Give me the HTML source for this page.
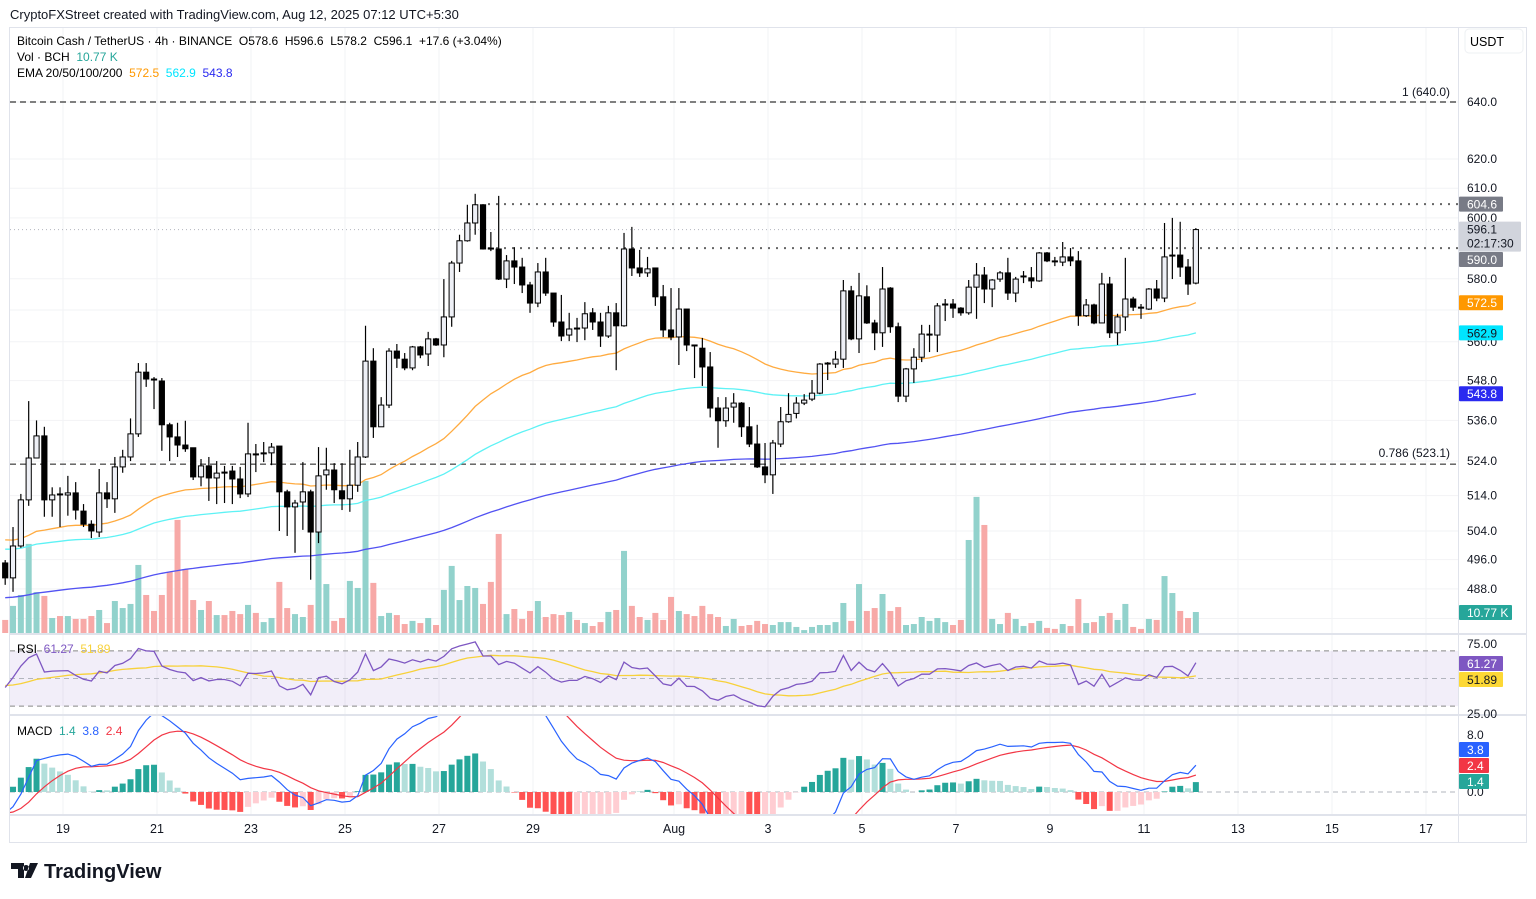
<!DOCTYPE html>
<html><head><meta charset="utf-8"><title>BCH/USDT 4h</title>
<style>
html,body{margin:0;padding:0;background:#fff;}
body{width:1536px;height:899px;overflow:hidden;font-family:"Liberation Sans",Arial,sans-serif;color:#131722;}
svg{display:block;}
text{font-family:"Liberation Sans",Arial,sans-serif;white-space:pre;}
</style></head>
<body>
<svg id="chart" width="1536" height="899" viewBox="0 0 1536 899" xmlns="http://www.w3.org/2000/svg" xml:space="preserve">
  <text x="10" y="19" font-size="13" fill="#131722">CryptoFXStreet created with TradingView.com, Aug 12, 2025 07:12 UTC+5:30</text>
  <rect x="9.5" y="27.5" width="1517" height="815" fill="none" stroke="#e0e3eb"/>
  <line x1="1458.5" y1="28" x2="1458.5" y2="842" stroke="#e0e3eb"/>
  <g id="grid"></g>
  <g id="levels"></g>
  <g id="vol"></g>
  <g id="ema"></g>
  <g id="candles"></g>
  <g id="rsi"></g>
  <g id="macd"></g>
  <g id="axis"></g>
  <g id="legend">
    <text x="17" y="45" font-size="12">Bitcoin Cash / TetherUS · 4h · BINANCE  O578.6  H596.6  L578.2  C596.1  +17.6 (+3.04%)</text>
    <text x="17" y="61" font-size="12">Vol · BCH  <tspan fill="#26a69a">10.77 K</tspan></text>
    <text x="17" y="77" font-size="12">EMA 20/50/100/200  <tspan fill="#ff9800">572.5</tspan>  <tspan fill="#00e5ff">562.9</tspan>  <tspan fill="#2a2af0">543.8</tspan></text>
    <text x="17" y="653" font-size="12">RSI  <tspan fill="#7e57c2">61.27</tspan>  <tspan fill="#f7d13a">51.89</tspan></text>
    <text x="17" y="735" font-size="12">MACD  <tspan fill="#26a69a">1.4</tspan>  <tspan fill="#2962ff">3.8</tspan>  <tspan fill="#f23645">2.4</tspan></text>
  </g>
  <rect x="1465" y="29" width="58" height="24" rx="4" fill="#fff" stroke="#eef0f3"/>
  <text x="1470" y="46" font-size="12.5">USDT</text>
  <g>
    <path d="M11 863h13v15h-6v-9h-7z M26 865a3 3 0 1 0 0.1 0z M30 863h8l-7 15h-6z" fill="#131722"/>
    <text x="44" y="878" font-size="20" font-weight="bold" fill="#131722">TradingView</text>
  </g>
</svg>
<script>
const O=[495.1,491.0,499.8,512.8,524.9,531.4,512.8,514.5,514.2,514.8,
509.6,505.9,503.7,514.8,513.1,522.3,525.2,532.0,550.6,548.5,
547.9,534.7,531.1,528.7,527.9,519.4,522.6,519.1,520.8,521.1,
518.8,514.5,526.1,526.1,526.4,528.4,515.1,510.8,512.2,515.1,
503.7,520.0,521.4,515.4,513.1,517.0,525.2,554.0,534.1,540.6,
557.1,554.6,551.9,558.4,556.2,560.9,559.0,567.8,585.1,592.4,
598.3,604.4,590.0,589.7,579.9,585.8,583.8,578.0,572.2,582.2,
575.4,566.2,562.1,564.3,564.3,569.1,566.2,561.8,569.1,565.0,
589.7,583.5,581.9,583.5,574.2,563.7,561.5,570.3,559.0,558.0,
552.2,539.7,535.9,540.0,541.2,534.1,529.0,522.3,520.0,529.0,
535.6,538.1,541.2,542.4,544.2,553.1,553.1,554.6,576.1,560.9,
574.2,565.9,562.8,577.0,564.7,543.3,551.6,555.2,562.1,562.1,
571.6,571.9,570.6,569.1,577.3,581.2,576.7,579.9,581.9,575.4,
580.6,580.3,579.3,588.4,585.8,585.4,587.1,585.8,568.2,571.6,
565.9,578.3,562.8,567.8,573.5,570.9,570.3,576.7,573.8,587.4,
587.7,583.8,578.6];
const H=[495.9,505.1,514.5,541.8,536.0,534.1,516.4,516.4,519.7,517.9,
511.6,507.0,521.7,517.9,525.2,527.3,536.6,553.4,553.4,549.1,
548.8,535.3,535.3,535.9,527.9,524.6,525.2,524.0,522.6,522.6,
522.3,535.3,529.0,529.6,529.3,528.4,515.7,512.8,523.7,515.7,
528.1,527.9,523.4,523.4,527.3,529.6,565.0,558.0,543.0,558.0,
559.3,556.5,558.7,558.7,563.1,561.2,579.9,585.8,594.4,604.4,
608.1,604.6,595.3,607.4,587.7,590.3,586.8,579.0,585.1,586.8,
575.4,574.8,569.1,567.5,572.5,570.6,569.1,571.3,572.2,595.0,
597.0,589.4,587.1,583.5,578.0,577.0,577.0,570.3,559.0,561.2,
556.8,543.0,543.0,544.2,541.5,540.0,534.7,529.3,530.2,540.0,
544.2,543.0,543.9,548.2,553.4,553.7,557.1,579.6,577.7,581.9,
577.9,566.9,583.8,577.3,566.0,551.9,558.0,565.3,565.3,572.2,
573.5,573.5,570.9,579.6,585.1,583.8,579.9,582.5,586.8,580.6,
582.5,583.8,588.7,588.7,587.1,592.0,590.0,589.0,573.5,572.0,
581.9,580.6,568.8,586.8,574.2,571.9,577.0,579.6,598.3,600.0,
598.7,586.4,596.6];
const L=[489.1,487.2,499.3,511.1,524.9,508.0,508.0,505.1,508.3,507.2,
505.1,502.0,502.3,510.5,509.1,520.6,524.0,531.1,546.1,539.4,
527.0,524.0,525.2,526.7,518.5,516.7,512.5,511.6,511.9,511.6,
513.3,513.6,520.8,523.7,522.8,504.0,502.6,497.9,504.3,490.5,
500.6,515.7,511.9,509.9,509.4,515.1,524.9,530.8,534.1,539.7,
551.9,551.2,551.2,554.9,552.5,558.7,555.2,564.7,582.2,592.1,
594.4,589.5,589.0,579.6,577.0,578.3,575.4,569.1,570.9,574.5,
564.7,560.2,560.2,559.9,560.5,563.7,558.4,561.2,551.2,564.7,
580.9,580.6,580.6,571.3,561.5,560.5,552.8,557.1,548.8,546.4,
536.9,527.9,534.1,535.3,531.1,528.1,522.0,517.6,514.5,528.1,
535.3,536.6,540.6,541.8,543.9,548.2,551.9,551.9,560.5,556.5,
565.6,557.4,558.4,562.8,541.5,541.5,547.3,553.7,556.8,556.8,
566.5,567.5,568.2,568.5,567.2,572.2,570.9,579.0,573.2,572.5,
578.6,577.0,579.0,585.4,584.1,584.1,584.1,565.0,567.8,565.5,
565.9,561.2,559.0,563.4,569.7,567.2,570.0,572.8,572.5,579.9,
580.6,574.8,578.2];
const C=[491.0,499.8,512.8,524.9,531.4,512.8,514.2,514.4,514.8,509.9,
505.9,504.0,514.8,513.1,522.3,525.2,532.0,550.6,548.5,548.2,
534.7,531.1,528.7,527.6,519.4,522.6,519.1,520.5,520.5,518.8,
514.5,526.1,525.8,526.4,528.1,515.1,510.8,511.9,515.1,503.7,
519.7,521.4,515.7,513.1,517.0,525.2,554.0,534.1,540.6,557.1,
554.9,551.9,558.4,555.9,560.9,559.0,567.8,585.1,592.4,598.3,
604.4,589.7,589.8,579.9,585.8,583.8,578.0,572.2,582.2,575.4,
566.2,561.8,564.0,564.0,568.8,566.2,561.8,569.1,565.0,589.7,
583.5,581.9,583.2,574.2,563.7,561.5,570.3,559.0,558.7,552.2,
539.7,535.9,539.7,541.2,534.1,529.0,522.3,520.0,529.3,535.6,
537.8,541.2,542.1,544.2,553.1,553.4,554.6,576.1,560.9,574.5,
565.9,562.8,576.7,564.7,543.3,551.6,555.2,562.4,562.4,571.3,
571.9,570.6,569.1,577.3,581.2,576.7,579.6,581.9,575.4,579.9,
580.9,579.3,588.4,585.8,585.6,587.1,585.8,568.2,571.6,565.9,
578.3,562.8,567.8,573.5,570.9,570.6,576.7,573.8,587.1,587.7,
583.8,578.3,596.1];
const V=[6.7,13.9,19.5,45.7,21.0,19.0,7.7,8.7,8.7,7.2,
7.2,8.7,11.8,5.1,16.4,12.8,14.9,34.9,19.5,11.3,
19.5,31.3,58.0,32.8,16.9,11.8,16.4,9.2,9.2,11.3,
9.7,14.4,10.3,5.6,7.7,26.2,12.8,9.7,8.2,14.4,
69.3,25.1,6.2,7.7,26.7,23.1,78.0,25.7,8.7,10.3,
9.2,4.6,6.2,5.1,7.7,4.1,22.1,34.4,16.9,24.1,
23.1,14.9,26.2,50.8,9.7,12.3,7.2,11.3,16.4,8.2,
9.7,9.2,10.8,6.7,5.1,3.6,5.6,10.8,11.8,42.1,
13.9,8.2,6.7,10.3,6.7,18.5,11.3,9.7,8.7,13.9,
9.7,8.2,3.6,7.2,3.6,4.1,6.2,4.6,4.1,5.6,
5.6,3.1,1.5,3.1,4.1,4.1,5.6,15.4,6.2,25.1,
11.3,12.8,20.0,11.3,13.3,4.1,4.6,8.2,6.2,7.7,
5.6,4.1,6.7,47.7,69.8,55.4,7.2,4.6,10.3,7.2,
3.6,5.1,6.2,2.6,2.1,4.6,3.6,17.4,5.1,5.6,
8.7,10.3,6.7,14.9,3.1,2.1,7.2,6.7,29.2,20.5,
11.3,7.7,10.77];
const timeStart=[-1.23];
const emaPeriods=[50,100,200];
const emaSeeds=[501.5,498.9,485.6];
const emaColors=["#ffab40","#5ef2f5","#5252f2"];
const rsiSeeds=[2.0,2.6,45];
const macdSeeds=[0,3,-3];
const priceTicks=[640,620,610,600,580,570,560,548,536,524,514,504,496,488,480];
const tickLabels=["19","21","23","25","27","29","Aug","3","5","7","9","11","13","15","17"];
const tickDays=[0,2,4,6,8,10,13,15,17,19,21,23,25,27,29];
const levelPrices=[640.0,604.6,590.0,523.1];

const NS="http://www.w3.org/2000/svg";
function mk(tag,attrs,parent){const e=document.createElementNS(NS,tag);for(const k in attrs)e.setAttribute(k,attrs[k]);parent.appendChild(e);return e;}
const N=C.length;
const DAYPX=47, X0=63;
function xDay(d){return X0+d*DAYPX;}
function xOf(i){return xDay(timeStart[0]+i/6);}
function yP(p){return 102+1795.6*Math.log(640/p);}
function yRsi(v){return 678.5-(v-50)*1.38;}
function yMacd(v){return 792-v*7.1;}
function yVol(v){return 633-v*1.95;}

const grid=document.getElementById('grid');
tickDays.forEach(d=>{const l=mk('line',{x1:xDay(d),x2:xDay(d),y1:28,y2:815,stroke:'#f2f3f5'},grid);

});
priceTicks.forEach(p=>{const l=mk('line',{x1:10,x2:1458,y1:yP(p),y2:yP(p),stroke:'#f2f3f5'},grid);

});

const axis=document.getElementById('axis');
[[634,'main-rsi-separator'],[715,'rsi-macd-separator'],[815,'time-axis-separator']].forEach(s=>{
 const l=mk('line',{x1:10,x2:1527,y1:s[0],y2:s[0],stroke:'#e0e3eb','stroke-width':2},axis);
 
 });

const lv=document.getElementById('levels');
mk('line',{x1:10,x2:1458,y1:yP(levelPrices[0]),y2:yP(levelPrices[0]),stroke:'#555','stroke-width':1.4,'stroke-dasharray':'6 4'},lv);
mk('line',{x1:10,x2:1458,y1:yP(levelPrices[3]),y2:yP(levelPrices[3]),stroke:'#555','stroke-width':1.4,'stroke-dasharray':'6 4'},lv);
mk('line',{x1:488,x2:1458,y1:yP(levelPrices[1]),y2:yP(levelPrices[1]),stroke:'#666','stroke-width':2,'stroke-dasharray':'2 6'},lv);
mk('line',{x1:488,x2:1458,y1:yP(levelPrices[2]),y2:yP(levelPrices[2]),stroke:'#666','stroke-width':2,'stroke-dasharray':'2 6'},lv);
mk('line',{x1:10,x2:1458,y1:yP(C[N-1]),y2:yP(C[N-1]),stroke:'#b2b5be','stroke-width':1,'stroke-dasharray':'1 3'},lv);
let t=mk('text',{x:1450,y:yP(640)-6,'font-size':12,'text-anchor':'end',fill:'#131722'},lv);t.textContent='1 (640.0)';

t=mk('text',{x:1450,y:yP(523.1)-7,'font-size':12,'text-anchor':'end',fill:'#131722'},lv);t.textContent='0.786 (523.1)';


const vg=document.getElementById('vol');
for(let i=0;i<N;i++){const up=C[i]>=O[i];const x=xOf(i);
 const r=mk('rect',{x:x-3,y:yVol(V[i]),width:6,height:633-yVol(V[i]),fill:up?'#92d2cc':'#f7a9a7'},vg);
 
 }

const eg=document.getElementById('ema');
const emaVals=emaPeriods.map((p,k)=>{const a=2/(p+1);let e=emaSeeds[k];const out=[];for(let i=0;i<N;i++){e=i===0?e:e+a*(C[i]-e);out.push(e);}return out;});
emaVals.forEach((arr,k)=>{const d=arr.map((v,i)=>(i?'L':'M')+xOf(i).toFixed(1)+' '+yP(v).toFixed(1)).join(' ');
 const p=mk('path',{d:d,fill:'none',stroke:emaColors[k],'stroke-width':1.3},eg);
 
 });

const cg=document.getElementById('candles');
for(let i=0;i<N;i++){const x=xOf(i);const up=C[i]>=O[i];
 const w=mk('line',{x1:x,x2:x,y1:yP(H[i]),y2:yP(L[i]),stroke:'#000','stroke-width':1.2},cg);
 
 
 const top=yP(Math.max(O[i],C[i])),bot=yP(Math.min(O[i],C[i]));
 const b=mk('rect',{x:x-2.6,y:top,width:5.2,height:Math.max(1,bot-top),fill:up?'#eef0f6':'#000',stroke:'#000','stroke-width':1},cg);
 
 }

const rg=document.getElementById('rsi');
mk('rect',{x:10,y:yRsi(70),width:1448,height:yRsi(30)-yRsi(70),fill:'#7e57c2','fill-opacity':0.1},rg);
[70,50,30].forEach(v=>{const l=mk('line',{x1:10,x2:1458,y1:yRsi(v),y2:yRsi(v),stroke:v===50?'#b2b5be':'#888','stroke-dasharray':'5 4'},rg);
 
 });
let ag=rsiSeeds[0],al=rsiSeeds[1];const rsi=[];
for(let i=0;i<N;i++){if(i>0){const ch=C[i]-C[i-1];ag=(ag*13+Math.max(ch,0))/14;al=(al*13+Math.max(-ch,0))/14;}rsi.push(100-100/(1+ag/al));}
const rsiMa=rsi.map((v,i)=>{let s=0;for(let k=i-13;k<=i;k++)s+=k>=0?rsi[k]:rsiSeeds[2];return s/14;});
function linePath(arr,yf){return arr.map((v,i)=>(i?'L':'M')+xOf(i).toFixed(1)+' '+yf(v).toFixed(1)).join(' ');}
mk('path',{d:linePath(rsiMa,yRsi),fill:'none',stroke:'#f7d13a','stroke-width':1.3},rg);
mk('path',{d:linePath(rsi,yRsi),fill:'none',stroke:'#7e57c2','stroke-width':1.3},rg);

const mg=document.getElementById('macd');
const cp=mk('clipPath',{id:'mclip'},mg);mk('rect',{x:10,y:716,width:1448,height:99},cp);
const mc=mk('g',{'clip-path':'url(#mclip)'},mg);
mk('line',{x1:10,x2:1458,y1:yMacd(0),y2:yMacd(0),stroke:'#b2b5be','stroke-dasharray':'5 4'},mc);
let e12=C[0]+macdSeeds[0],e26=C[0]+macdSeeds[1],sig=macdSeeds[2];const macd=[],sg=[],hist=[];
for(let i=0;i<N;i++){if(i>0){e12+=2/13*(C[i]-e12);e26+=2/27*(C[i]-e26);}const m=e12-e26;if(i>0)sig+=0.2*(m-sig);macd.push(m);sg.push(sig);hist.push(m-sig);}
for(let i=0;i<N;i++){const h=hist[i],prev=i?hist[i-1]:h;let col;
 if(h>=0)col=h>=prev?'#26a69a':'#b2dfdb';else col=h<prev?'#ff5252':'#ffcdd2';
 const y0=yMacd(0),y1=yMacd(h);
 const r=mk('rect',{x:xOf(i)-3,y:Math.min(y0,y1),width:6,height:Math.abs(y1-y0),fill:col},mc);
 
 }
mk('path',{d:linePath(sg,yMacd),fill:'none',stroke:'#f23645','stroke-width':1.2},mc);
mk('path',{d:linePath(macd,yMacd),fill:'none',stroke:'#2962ff','stroke-width':1.2},mc);

const hidden=[570,480];
priceTicks.forEach(p=>{if(hidden.includes(p))return;const tx=mk('text',{x:1467,y:yP(p)+4,'font-size':12,fill:'#131722'},axis);tx.textContent=p.toFixed(1);
 
 });
[[75,'75.00',644],[25,'25.00',714]].forEach(a=>{const tx=mk('text',{x:1467,y:a[2]+4,'font-size':12,fill:'#131722'},axis);tx.textContent=a[1];
 
 });
[[8,'8.0'],[0,'0.0']].forEach(a=>{const tx=mk('text',{x:1467,y:yMacd(a[0])+4,'font-size':12,fill:'#131722'},axis);tx.textContent=a[1];
 
 });
tickLabels.forEach((s,k)=>{const tx=mk('text',{x:xDay(tickDays[k]),y:833,'font-size':12.5,'text-anchor':'middle',fill:'#131722'},axis);tx.textContent=s;
 
 });

function tag(y,h,fill,color,lines,name,w){const g=mk('g',{},axis);
 mk('rect',{x:1459,y:y,width:w||44,height:h,fill:fill,rx:1},g);
 lines.forEach((s,k)=>{const tx=mk('text',{x:1467,y:y+12+k*14,'font-size':12,fill:color},g);tx.textContent=s;});}
tag(yP(604.6)-7.5,15,'#787b86','#fff',['604.6'],'tag-604');
tag(yP(C[N-1])-8,30,'#d1d4dc','#131722',[C[N-1].toFixed(1),'02:17:30'],'tag-last-price',62);
tag(252,15,'#787b86','#fff',['590.0'],'tag-590');
tag(yP(emaVals[0][N-1])-7.5,15,'#ff9800','#fff',['572.5'],'tag-ema50');
tag(yP(emaVals[1][N-1])-7.5,15,'#00e5ff','#131722',['562.9'],'tag-ema100');
tag(yP(emaVals[2][N-1])-7.5,15,'#2a2af0','#fff',['543.8'],'tag-ema200');
tag(605,15,'#26a69a','#fff',['10.77 K'],'tag-volume',53);
tag(656,15,'#7e57c2','#fff',['61.27'],'tag-rsi');
tag(672,15,'#fdd835','#131722',['51.89'],'tag-rsi-ma');
tag(742,15,'#2962ff','#fff',['3.8'],'tag-macd',30);
tag(758,15,'#f23645','#fff',['2.4'],'tag-signal',30);
tag(774,15,'#26a69a','#fff',['1.4'],'tag-histogram',30);
</script>
</body></html>
